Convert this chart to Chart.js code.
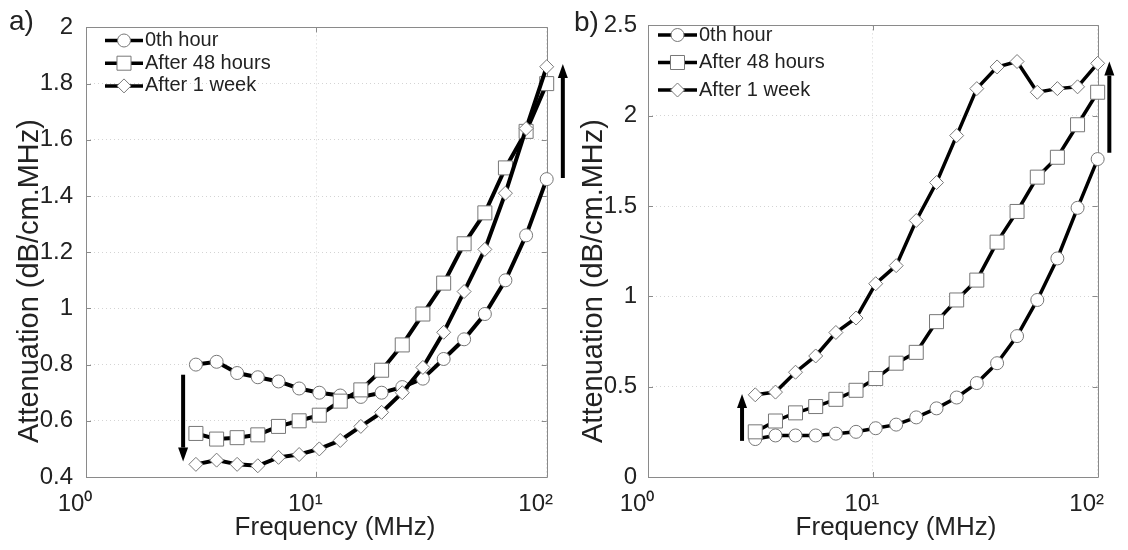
<!DOCTYPE html>
<html>
<head>
<meta charset="utf-8">
<script src="https://cdn.jsdelivr.net/npm/chart.js@4.4.1/dist/chart.umd.min.js"></script>
<style>
  html, body { margin: 0; padding: 0; background: #fff; }
  #wrap { position: relative; width: 1128px; height: 550px; overflow: hidden; }
  canvas { position: absolute; top: 0; }
  #chartA { left: 0; }
  #chartB { left: 564px; }
</style>
</head>
<body>
<div id="wrap">
  <canvas id="chartA" width="584" height="550"></canvas>
  <canvas id="chartB" width="564" height="550"></canvas>
</div>
<script>
// frequencies in MHz, same for both panels
const freqs = [3, 3.69, 4.53, 5.57, 6.85, 8.42, 10.3, 12.7, 15.6, 19.2, 23.6, 29.0, 35.7, 43.8, 53.9, 66.2, 81.4, 100];
const seriesNames = ['0th hour', 'After 48 hours', 'After 1 week'];

// panel a)
const hour0A = [0.80, 0.81, 0.77, 0.755, 0.74, 0.715, 0.70, 0.69, 0.685, 0.70, 0.72, 0.75, 0.82, 0.89, 0.98, 1.10, 1.26, 1.46];
const hour48A = [0.555, 0.535, 0.54, 0.55, 0.58, 0.60, 0.62, 0.67, 0.71, 0.78, 0.87, 0.98, 1.09, 1.23, 1.34, 1.50, 1.63, 1.80];
const week1A = [0.445, 0.46, 0.445, 0.44, 0.47, 0.48, 0.50, 0.53, 0.58, 0.63, 0.70, 0.79, 0.915, 1.06, 1.21, 1.41, 1.64, 1.86];

// panel b)
const hour0B = [0.21, 0.23, 0.23, 0.23, 0.24, 0.25, 0.27, 0.29, 0.33, 0.38, 0.44, 0.52, 0.63, 0.78, 0.98, 1.21, 1.49, 1.76];
const hour48B = [0.25, 0.31, 0.355, 0.39, 0.43, 0.48, 0.545, 0.63, 0.69, 0.86, 0.98, 1.09, 1.30, 1.47, 1.66, 1.77, 1.95, 2.13];
const week1B = [0.455, 0.47, 0.58, 0.67, 0.80, 0.88, 1.07, 1.17, 1.42, 1.63, 1.89, 2.15, 2.27, 2.30, 2.13, 2.15, 2.16, 2.29];

// ticks
const xTicks = [1, 10, 100];
const xTickLabels = ['10⁰', '10¹', '10²'];
const yTicksA = [0.4, 0.6, 0.8, 1.0, 1.2, 1.4, 1.6, 1.8, 2.0];
const yTicksB = [0, 0.5, 1.0, 1.5, 2.0, 2.5];

// arrows (x in MHz, from/to in dB/cm.MHz)
const arrowsA = [{ x: 2.64, from: 0.764, to: 0.455 }, { x: 117.5, from: 1.464, to: 1.87 }];
const arrowsB = [{ x: 2.62, from: 0.20, to: 0.46 }, { x: 112.7, from: 1.795, to: 2.30 }];

const xTitle = 'Frequency (MHz)';
const yTitle = 'Attenuation (dB/cm.MHz)';

Chart.defaults.font.family = '"Liberation Sans", Arial, sans-serif';

const markers = [
  { style: 'circle', radius: 6.5 },
  { style: 'rect', radius: 9.9 },
  { style: 'rectRot', radius: 7 }
];

function series(values, i, lw) {
  return {
    label: seriesNames[i],
    data: freqs.map((f, k) => ({ x: f, y: values[k] })),
    borderColor: '#000',
    borderWidth: lw,
    pointStyle: markers[i].style,
    pointRadius: markers[i].radius,
    pointBackgroundColor: '#fff',
    pointBorderColor: '#777',
    pointBorderWidth: 1,
    tension: 0,
    clip: false,
    order: 3 - i
  };
}

function drawMarker(ctx, style, r, cx, cy) {
  ctx.beginPath();
  if (style === 'circle') {
    ctx.arc(cx, cy, r, 0, 2 * Math.PI);
  } else if (style === 'rect') {
    const s = r * Math.SQRT1_2;
    ctx.rect(cx - s, cy - s, 2 * s, 2 * s);
  } else {
    ctx.moveTo(cx - r, cy);
    ctx.lineTo(cx, cy - r);
    ctx.lineTo(cx + r, cy);
    ctx.lineTo(cx, cy + r);
    ctx.closePath();
  }
  ctx.fillStyle = '#fff';
  ctx.fill();
  ctx.strokeStyle = '#777';
  ctx.lineWidth = 1;
  ctx.stroke();
}

function drawArrow(ctx, px, yFrom, yTo) {
  const dir = Math.sign(yTo - yFrom), head = 14, half = 5;
  ctx.strokeStyle = '#000';
  ctx.lineWidth = 4;
  ctx.beginPath();
  ctx.moveTo(px, yFrom);
  ctx.lineTo(px, yTo - dir * head);
  ctx.stroke();
  ctx.fillStyle = '#000';
  ctx.beginPath();
  ctx.moveTo(px, yTo);
  ctx.lineTo(px - half, yTo - dir * head);
  ctx.lineTo(px + half, yTo - dir * head);
  ctx.closePath();
  ctx.fill();
}

// box round the plot with inward ticks (matlab style)
const framePlugin = {
  id: 'frame',
  beforeDatasetsDraw(chart) {
    const { ctx, chartArea: a, scales } = chart;
    ctx.save();
    ctx.strokeStyle = '#8a8a8a';
    ctx.lineWidth = 1;
    ctx.beginPath();
    ctx.rect(Math.round(a.left) + 0.5, Math.round(a.top) + 0.5, Math.round(a.right - a.left), Math.round(a.bottom - a.top));
    scales.y.ticks.forEach(t => {
      const y = Math.round(scales.y.getPixelForValue(t.value)) + 0.5;
      ctx.moveTo(a.left, y); ctx.lineTo(a.left + 5, y);
      ctx.moveTo(a.right, y); ctx.lineTo(a.right - 5, y);
    });
    scales.x.ticks.forEach(t => {
      const x = Math.round(scales.x.getPixelForValue(t.value)) + 0.5;
      ctx.moveTo(x, a.bottom); ctx.lineTo(x, a.bottom - 5);
      ctx.moveTo(x, a.top); ctx.lineTo(x, a.top + 5);
    });
    ctx.stroke();
    ctx.restore();
  }
};

// titles, legend inside the axes, arrows, panel letter
const decoPlugin = {
  id: 'deco',
  afterDraw(chart, args, o) {
    const { ctx, scales: { x, y } } = chart;
    ctx.save();
    ctx.fillStyle = '#222';
    ctx.textBaseline = 'alphabetic';
    ctx.textAlign = 'left';
    ctx.font = '28px "Liberation Sans", Arial, sans-serif';
    ctx.fillText(o.panel, o.panelX, o.panelY);

    ctx.font = '26px "Liberation Sans", Arial, sans-serif';
    ctx.textAlign = 'center';
    ctx.fillText(xTitle, o.xTitleX, o.xTitleY);
    ctx.save();
    ctx.font = '29px "Liberation Sans", Arial, sans-serif';
    ctx.translate(o.yTitleX, o.yTitleY);
    ctx.rotate(-Math.PI / 2);
    ctx.fillText(yTitle, 0, 0);
    ctx.restore();

    chart.data.datasets.forEach((ds, i) => {
      const ly = o.legendY + i * o.legendGap;
      ctx.strokeStyle = '#000';
      ctx.lineWidth = 3.5;
      ctx.beginPath();
      ctx.moveTo(o.legendX, ly);
      ctx.lineTo(o.legendX + o.legendLine, ly);
      ctx.stroke();
      drawMarker(ctx, ds.pointStyle, ds.pointRadius, o.legendX + o.legendLine / 2, ly);
      ctx.fillStyle = '#222';
      ctx.font = '20px "Liberation Sans", Arial, sans-serif';
      ctx.textAlign = 'left';
      ctx.textBaseline = 'middle';
      ctx.fillText(ds.label, o.legendX + o.legendLine + 2, ly);
    });

    o.arrows.forEach(a => {
      drawArrow(ctx, x.getPixelForValue(a.x), y.getPixelForValue(a.from), y.getPixelForValue(a.to));
    });
    ctx.restore();
  }
};

function makeOptions(c, deco) {
  const grid = { color: '#d4d4d4', lineWidth: 1, drawTicks: false };
  const border = { display: false, dash: [1, 3] };
  return {
    responsive: false,
    animation: false,
    layout: { padding: { top: 20, right: c.padRight, left: 0, bottom: 0 } },
    plugins: { legend: { display: false }, tooltip: { enabled: false }, deco: deco },
    scales: {
      x: {
        type: 'logarithmic',
        min: 1,
        max: 100,
        afterBuildTicks: s => { s.ticks = xTicks.map(v => ({ value: v })); },
        afterFit: s => { s.height = 73; },
        ticks: {
          callback: (v, i) => xTickLabels[i],
          font: { size: 24 },
          color: '#222',
          padding: 13,
          labelOffset: -11,
          maxRotation: 0,
          autoSkip: false
        },
        grid: grid,
        border: border
      },
      y: {
        min: c.yMin,
        max: c.yMax,
        afterBuildTicks: s => { s.ticks = c.yTicks.map(v => ({ value: v })); },
        afterFit: s => { s.width = c.yWidth; },
        ticks: {
          callback: v => String(Math.round(v * 10) / 10),
          font: { size: 24 },
          color: '#222',
          padding: c.yPad
        },
        grid: grid,
        border: border
      }
    }
  };
}

const chartA = new Chart(document.getElementById('chartA'), {
  type: 'line',
  data: { datasets: [series(hour0A, 0, 4), series(hour48A, 1, 4), series(week1A, 2, 4)] },
  options: makeOptions(
    { padRight: 37.3, yMin: 0.4, yMax: 2, yTicks: yTicksA, yWidth: 86, yPad: 13 },
    { panel: 'a)', panelX: 9, panelY: 30, xTitleX: 335, xTitleY: 535, yTitleX: 38, yTitleY: 281,
      legendX: 105, legendY: 40.5, legendGap: 22.7, legendLine: 38, arrows: arrowsA }
  ),
  plugins: [framePlugin, decoPlugin]
});

const chartB = new Chart(document.getElementById('chartB'), {
  type: 'line',
  data: { datasets: [series(hour0B, 0, 3.5), series(hour48B, 1, 3.5), series(week1B, 2, 3.5)] },
  options: makeOptions(
    { padRight: 19, yMin: 0, yMax: 2.5, yTicks: yTicksB, yWidth: 84, yPad: 11 },
    { panel: 'b)', panelX: 10, panelY: 31, xTitleX: 332, xTitleY: 535, yTitleX: 38, yTitleY: 281,
      legendX: 94, legendY: 35, legendGap: 27.5, legendLine: 39, arrows: arrowsB }
  ),
  plugins: [framePlugin, decoPlugin]
});
</script>
</body>
</html>
